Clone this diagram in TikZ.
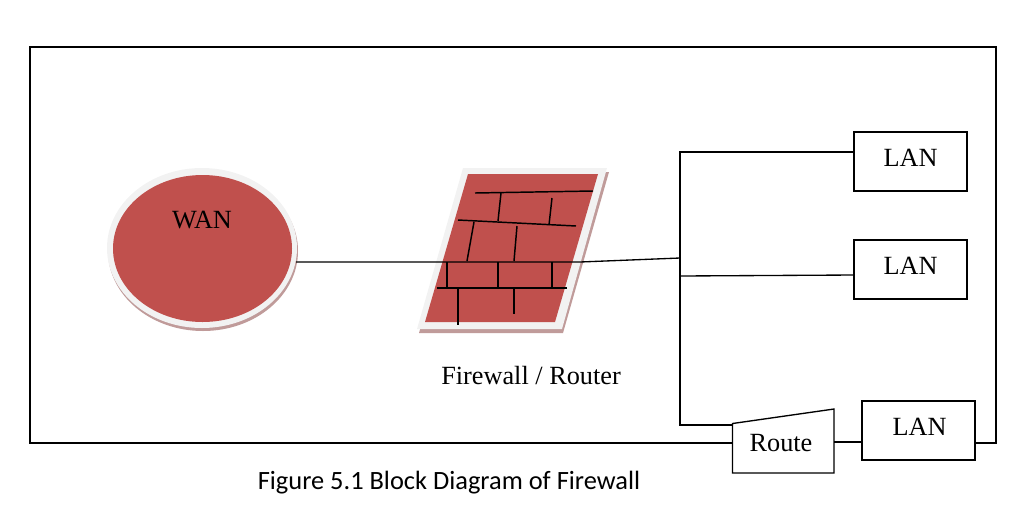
\documentclass[tikz,border=0pt]{standalone}
\usepackage{fontspec}
\setmainfont{Liberation Serif}
\newfontfamily\capfont{Carlito}
\usetikzlibrary{shapes.geometric}
\definecolor{wallred}{HTML}{C0504D}
\definecolor{rimgrey}{HTML}{F2F2F2}
\definecolor{shadered}{HTML}{C09B9A}
\tikzset{
  wire/.style={black, line width=1pt},
  brick/.style={black, line width=1.1pt},
  lanbox/.style={draw=black, line width=1pt, fill=white, minimum width=84.75pt, minimum height=44.25pt, inner sep=0pt},
  label/.style={font=\fontsize{19.7}{22}\selectfont, inner sep=0pt},
}

\begin{document}
\begin{tikzpicture}[x=0.75pt, y=-0.75pt]
\useasboundingbox (0,0) rectangle (1017,508);

% Ends of the connectors
\coordinate (framestart) at (733,443);
\coordinate (frameend) at (975,443);
\coordinate (wanport) at (296,262);
\coordinate (wallport) at (580,262);
\coordinate (hubtop) at (680,152);
\coordinate (hubin) at (680,258);
\coordinate (hubmid) at (680,276);
\coordinate (hubbottom) at (680,425);
\coordinate (routein) at (733,425);
\coordinate (routeout) at (834,442);
\coordinate (lanbin) at (854,275);

% Outer frame
\draw[wire] (framestart) -- (30,443) -- (30,47) -- (996,47) -- (996,443) -- (frameend);

% WAN
\fill[shadered] (203,251) ellipse (95 and 80);
\fill[rimgrey] (202,248) ellipse (95 and 80);
\fill[wallred] (202.5,248.5) ellipse (89.5 and 73.5);
\node[label] (wan) at (202,220.5) {WAN};

% Firewall wall
\fill[shadered] (465,172) -- (609,172) -- (563,333) -- (419,333) -- cycle;
\fill[rimgrey] (463,168) -- (607,168) -- (562,329) -- (417,329) -- cycle;
\fill[wallred] (468,174) -- (598,174) -- (555,322) -- (425,322) -- cycle;
% Bricks
\draw[brick] (475,193) -- (593,191);
\draw[brick] (501,193) -- (498,221);
\draw[brick] (552,198) -- (549,225);
\draw[brick] (458,220) -- (576,226);
\draw[brick] (474,222) -- (467,261);
\draw[brick] (517,226) -- (514,261);
\draw[brick] (447,262) -- (447,287);
\draw[brick] (498,262) -- (498,287);
\draw[brick] (552,262) -- (552,287);
\draw[brick] (437,288) -- (567,288);
\draw[brick] (458,288) -- (458,325);
\draw[brick] (514,288) -- (514,314);
\node[label] (wall) at (531,375.5) {Firewall / Router};

% LAN boxes
\node[lanbox] (lana) at (910.5,161.5) {};
\node[lanbox] (lanb) at (910.5,269.5) {};
\node[lanbox] (lanc) at (918.5,430.5) {};
\node[label] (lanatext) at (910.5,158) {LAN};
\node[label] (lanbtext) at (910.5,266) {LAN};
\node[label] (lanctext) at (919.5,427) {LAN};

% Router
\draw[wire, fill=white] (732.5,423.5) -- (834,409) -- (834,473) -- (732.5,473) -- cycle;
\node[label] (route) at (781,443.5) {Route};

% Connectors
\draw[wire] (wanport) -- (wallport) -- (hubin);
\draw[wire] (lana.west |- hubtop) -- (hubtop) -- (hubbottom) -- (routein);
\draw[wire] (hubmid) -- (lanbin);
\draw[wire, line width=1.5pt] (routeout) -- (lanc.west |- routeout);

% Caption
\node[font=\capfont\fontsize{19.8}{22}\selectfont, inner sep=0pt] (caption) at (449,482.5) {Figure 5.1 Block Diagram of Firewall};

\end{tikzpicture}
\end{document}
